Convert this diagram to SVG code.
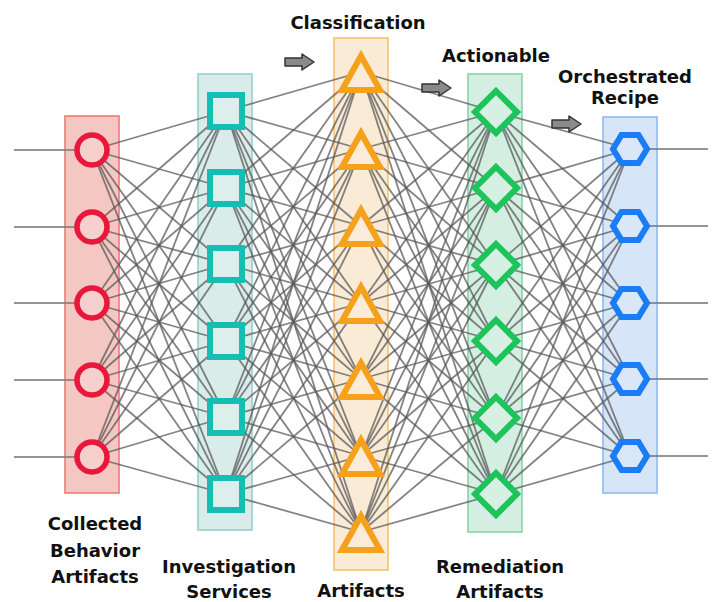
<svg xmlns="http://www.w3.org/2000/svg" width="714" height="602" viewBox="0 0 714 602">
<style>
.bar{stroke-width:1.6}
.b1{fill:#f5c7c3;stroke:#ec7c74}
.b2{fill:#d9ecea;stroke:#93d3cc}
.b3{fill:#faebd7;stroke:#f6c46e}
.b4{fill:#d4efe2;stroke:#86d4a9}
.b5{fill:#d7e5f8;stroke:#90baf2}
.cn line{stroke:#5a5a5a;stroke-width:1.8;stroke-opacity:0.75}
.io line{stroke:#7a7a7a;stroke-width:2;stroke-opacity:0.8}
.c1{fill:#f5d0cd;stroke:#e8173b;stroke-width:5.5}
.c2{fill:#dcefec;stroke:#16bdb3;stroke-width:6}
.c3{fill:#faecd8;stroke:#f5a11b;stroke-width:6;stroke-linejoin:miter}
.c4{fill:#d6f0e3;stroke:#1dc35b;stroke-width:6}
.c5{fill:#dae7f8;stroke:#1b7df5;stroke-width:6}
text{font-family:"DejaVu Sans","Liberation Sans",sans-serif;font-weight:bold;font-size:18px;fill:#111111;text-anchor:middle}
.arr{fill:#8a8a8a;stroke:#333333;stroke-width:1.5;stroke-linejoin:round}
</style>
<defs>
<path id="arrow" d="M0,-4 H17 V-8 L29,0 L17,8 V4 H0 Z"/>
</defs>

<g id="bars">
<rect class="bar b1" x="65" y="116" width="54" height="377"/>
<rect class="bar b2" x="198" y="74" width="54" height="456"/>
<rect class="bar b3" x="334" y="38" width="54" height="532"/>
<rect class="bar b4" x="468" y="74" width="54" height="458"/>
<rect class="bar b5" x="603" y="117" width="54" height="376"/>
</g>

<g id="connectors">
<g class="io">
<line x1="14" y1="150" x2="76" y2="150"/>
<line x1="14" y1="227" x2="76" y2="227"/>
<line x1="14" y1="303" x2="76" y2="303"/>
<line x1="14" y1="380" x2="76" y2="380"/>
<line x1="14" y1="457" x2="76" y2="457"/>
<line x1="648" y1="149" x2="708" y2="149"/>
<line x1="648" y1="226" x2="708" y2="226"/>
<line x1="648" y1="303" x2="708" y2="303"/>
<line x1="648" y1="379" x2="708" y2="379"/>
<line x1="648" y1="456" x2="708" y2="456"/>
</g>
<g class="cn">
<!-- L1 -> L2 -->
<line x1="92" y1="150" x2="226" y2="111"/><line x1="92" y1="150" x2="226" y2="188"/><line x1="92" y1="150" x2="226" y2="264"/><line x1="92" y1="150" x2="226" y2="341"/><line x1="92" y1="150" x2="226" y2="417"/><line x1="92" y1="150" x2="226" y2="494"/>
<line x1="92" y1="227" x2="226" y2="111"/><line x1="92" y1="227" x2="226" y2="188"/><line x1="92" y1="227" x2="226" y2="264"/><line x1="92" y1="227" x2="226" y2="341"/><line x1="92" y1="227" x2="226" y2="417"/><line x1="92" y1="227" x2="226" y2="494"/>
<line x1="92" y1="303" x2="226" y2="111"/><line x1="92" y1="303" x2="226" y2="188"/><line x1="92" y1="303" x2="226" y2="264"/><line x1="92" y1="303" x2="226" y2="341"/><line x1="92" y1="303" x2="226" y2="417"/><line x1="92" y1="303" x2="226" y2="494"/>
<line x1="92" y1="380" x2="226" y2="111"/><line x1="92" y1="380" x2="226" y2="188"/><line x1="92" y1="380" x2="226" y2="264"/><line x1="92" y1="380" x2="226" y2="341"/><line x1="92" y1="380" x2="226" y2="417"/><line x1="92" y1="380" x2="226" y2="494"/>
<line x1="92" y1="457" x2="226" y2="111"/><line x1="92" y1="457" x2="226" y2="188"/><line x1="92" y1="457" x2="226" y2="264"/><line x1="92" y1="457" x2="226" y2="341"/><line x1="92" y1="457" x2="226" y2="417"/><line x1="92" y1="457" x2="226" y2="494"/>
<!-- L2 -> L3 -->
<line x1="226" y1="111" x2="361" y2="72"/><line x1="226" y1="111" x2="361" y2="149"/><line x1="226" y1="111" x2="361" y2="226"/><line x1="226" y1="111" x2="361" y2="303"/><line x1="226" y1="111" x2="361" y2="379"/><line x1="226" y1="111" x2="361" y2="456"/><line x1="226" y1="111" x2="361" y2="532"/>
<line x1="226" y1="188" x2="361" y2="72"/><line x1="226" y1="188" x2="361" y2="149"/><line x1="226" y1="188" x2="361" y2="226"/><line x1="226" y1="188" x2="361" y2="303"/><line x1="226" y1="188" x2="361" y2="379"/><line x1="226" y1="188" x2="361" y2="456"/><line x1="226" y1="188" x2="361" y2="532"/>
<line x1="226" y1="264" x2="361" y2="72"/><line x1="226" y1="264" x2="361" y2="149"/><line x1="226" y1="264" x2="361" y2="226"/><line x1="226" y1="264" x2="361" y2="303"/><line x1="226" y1="264" x2="361" y2="379"/><line x1="226" y1="264" x2="361" y2="456"/><line x1="226" y1="264" x2="361" y2="532"/>
<line x1="226" y1="341" x2="361" y2="72"/><line x1="226" y1="341" x2="361" y2="149"/><line x1="226" y1="341" x2="361" y2="226"/><line x1="226" y1="341" x2="361" y2="303"/><line x1="226" y1="341" x2="361" y2="379"/><line x1="226" y1="341" x2="361" y2="456"/><line x1="226" y1="341" x2="361" y2="532"/>
<line x1="226" y1="417" x2="361" y2="72"/><line x1="226" y1="417" x2="361" y2="149"/><line x1="226" y1="417" x2="361" y2="226"/><line x1="226" y1="417" x2="361" y2="303"/><line x1="226" y1="417" x2="361" y2="379"/><line x1="226" y1="417" x2="361" y2="456"/><line x1="226" y1="417" x2="361" y2="532"/>
<line x1="226" y1="494" x2="361" y2="72"/><line x1="226" y1="494" x2="361" y2="149"/><line x1="226" y1="494" x2="361" y2="226"/><line x1="226" y1="494" x2="361" y2="303"/><line x1="226" y1="494" x2="361" y2="379"/><line x1="226" y1="494" x2="361" y2="456"/><line x1="226" y1="494" x2="361" y2="532"/>
<!-- L3 -> L4 -->
<line x1="361" y1="72" x2="496" y2="112"/><line x1="361" y1="72" x2="496" y2="188"/><line x1="361" y1="72" x2="496" y2="265"/><line x1="361" y1="72" x2="496" y2="341"/><line x1="361" y1="72" x2="496" y2="418"/><line x1="361" y1="72" x2="496" y2="494"/>
<line x1="361" y1="149" x2="496" y2="112"/><line x1="361" y1="149" x2="496" y2="188"/><line x1="361" y1="149" x2="496" y2="265"/><line x1="361" y1="149" x2="496" y2="341"/><line x1="361" y1="149" x2="496" y2="418"/><line x1="361" y1="149" x2="496" y2="494"/>
<line x1="361" y1="226" x2="496" y2="112"/><line x1="361" y1="226" x2="496" y2="188"/><line x1="361" y1="226" x2="496" y2="265"/><line x1="361" y1="226" x2="496" y2="341"/><line x1="361" y1="226" x2="496" y2="418"/><line x1="361" y1="226" x2="496" y2="494"/>
<line x1="361" y1="303" x2="496" y2="112"/><line x1="361" y1="303" x2="496" y2="188"/><line x1="361" y1="303" x2="496" y2="265"/><line x1="361" y1="303" x2="496" y2="341"/><line x1="361" y1="303" x2="496" y2="418"/><line x1="361" y1="303" x2="496" y2="494"/>
<line x1="361" y1="379" x2="496" y2="112"/><line x1="361" y1="379" x2="496" y2="188"/><line x1="361" y1="379" x2="496" y2="265"/><line x1="361" y1="379" x2="496" y2="341"/><line x1="361" y1="379" x2="496" y2="418"/><line x1="361" y1="379" x2="496" y2="494"/>
<line x1="361" y1="456" x2="496" y2="112"/><line x1="361" y1="456" x2="496" y2="188"/><line x1="361" y1="456" x2="496" y2="265"/><line x1="361" y1="456" x2="496" y2="341"/><line x1="361" y1="456" x2="496" y2="418"/><line x1="361" y1="456" x2="496" y2="494"/>
<line x1="361" y1="532" x2="496" y2="112"/><line x1="361" y1="532" x2="496" y2="188"/><line x1="361" y1="532" x2="496" y2="265"/><line x1="361" y1="532" x2="496" y2="341"/><line x1="361" y1="532" x2="496" y2="418"/><line x1="361" y1="532" x2="496" y2="494"/>
<!-- L4 -> L5 -->
<line x1="496" y1="112" x2="630" y2="149"/><line x1="496" y1="112" x2="630" y2="226"/><line x1="496" y1="112" x2="630" y2="303"/><line x1="496" y1="112" x2="630" y2="379"/><line x1="496" y1="112" x2="630" y2="456"/>
<line x1="496" y1="188" x2="630" y2="149"/><line x1="496" y1="188" x2="630" y2="226"/><line x1="496" y1="188" x2="630" y2="303"/><line x1="496" y1="188" x2="630" y2="379"/><line x1="496" y1="188" x2="630" y2="456"/>
<line x1="496" y1="265" x2="630" y2="149"/><line x1="496" y1="265" x2="630" y2="226"/><line x1="496" y1="265" x2="630" y2="303"/><line x1="496" y1="265" x2="630" y2="379"/><line x1="496" y1="265" x2="630" y2="456"/>
<line x1="496" y1="341" x2="630" y2="149"/><line x1="496" y1="341" x2="630" y2="226"/><line x1="496" y1="341" x2="630" y2="303"/><line x1="496" y1="341" x2="630" y2="379"/><line x1="496" y1="341" x2="630" y2="456"/>
<line x1="496" y1="418" x2="630" y2="149"/><line x1="496" y1="418" x2="630" y2="226"/><line x1="496" y1="418" x2="630" y2="303"/><line x1="496" y1="418" x2="630" y2="379"/><line x1="496" y1="418" x2="630" y2="456"/>
<line x1="496" y1="494" x2="630" y2="149"/><line x1="496" y1="494" x2="630" y2="226"/><line x1="496" y1="494" x2="630" y2="303"/><line x1="496" y1="494" x2="630" y2="379"/><line x1="496" y1="494" x2="630" y2="456"/>
</g>
</g>

<g id="layer1">
<g id="n1-1"><circle class="c1" cx="92" cy="150" r="15"/></g>
<g id="n1-2"><circle class="c1" cx="92" cy="227" r="15"/></g>
<g id="n1-3"><circle class="c1" cx="92" cy="303" r="15"/></g>
<g id="n1-4"><circle class="c1" cx="92" cy="380" r="15"/></g>
<g id="n1-5"><circle class="c1" cx="92" cy="457" r="15"/></g>
</g>
<g id="layer2">
<g id="n2-1"><rect class="c2" x="210" y="95" width="32" height="32"/></g>
<g id="n2-2"><rect class="c2" x="210" y="172" width="32" height="32"/></g>
<g id="n2-3"><rect class="c2" x="210" y="248" width="32" height="32"/></g>
<g id="n2-4"><rect class="c2" x="210" y="325" width="32" height="32"/></g>
<g id="n2-5"><rect class="c2" x="210" y="401" width="32" height="32"/></g>
<g id="n2-6"><rect class="c2" x="210" y="478" width="32" height="32"/></g>
</g>
<g id="layer3">
<g id="n3-1"><polygon class="c3" points="361,56 380,90 342,90"/></g>
<g id="n3-2"><polygon class="c3" points="361,133 380,167 342,167"/></g>
<g id="n3-3"><polygon class="c3" points="361,210 380,244 342,244"/></g>
<g id="n3-4"><polygon class="c3" points="361,287 380,321 342,321"/></g>
<g id="n3-5"><polygon class="c3" points="361,363 380,397 342,397"/></g>
<g id="n3-6"><polygon class="c3" points="361,440 380,474 342,474"/></g>
<g id="n3-7"><polygon class="c3" points="361,516 380,550 342,550"/></g>
</g>
<g id="layer4">
<g id="n4-1"><polygon class="c4" points="496,91 517,112 496,133 475,112"/></g>
<g id="n4-2"><polygon class="c4" points="496,167 517,188 496,209 475,188"/></g>
<g id="n4-3"><polygon class="c4" points="496,244 517,265 496,286 475,265"/></g>
<g id="n4-4"><polygon class="c4" points="496,320 517,341 496,362 475,341"/></g>
<g id="n4-5"><polygon class="c4" points="496,397 517,418 496,439 475,418"/></g>
<g id="n4-6"><polygon class="c4" points="496,473 517,494 496,515 475,494"/></g>
</g>
<g id="layer5">
<g id="n5-1"><polygon class="c5" points="613,149 621.5,135 638.5,135 647,149 638.5,163 621.5,163"/></g>
<g id="n5-2"><polygon class="c5" points="613,226 621.5,212 638.5,212 647,226 638.5,240 621.5,240"/></g>
<g id="n5-3"><polygon class="c5" points="613,303 621.5,289 638.5,289 647,303 638.5,317 621.5,317"/></g>
<g id="n5-4"><polygon class="c5" points="613,379 621.5,365 638.5,365 647,379 638.5,393 621.5,393"/></g>
<g id="n5-5"><polygon class="c5" points="613,456 621.5,442 638.5,442 647,456 638.5,470 621.5,470"/></g>
</g>

<g id="arrows">
<use href="#arrow" class="arr" x="285" y="62"/>
<use href="#arrow" class="arr" x="422" y="88"/>
<use href="#arrow" class="arr" x="552" y="124"/>
</g>

<g id="labels">
<text x="358" y="29">Classification</text>
<text x="496" y="62">Actionable</text>
<text x="625" y="83">Orchestrated</text>
<text x="625" y="104">Recipe</text>
<text x="95" y="530">Collected</text>
<text x="95" y="557">Behavior</text>
<text x="95" y="583">Artifacts</text>
<text x="229" y="573">Investigation</text>
<text x="229" y="598">Services</text>
<text x="361" y="597">Artifacts</text>
<text x="500" y="573">Remediation</text>
<text x="500" y="598">Artifacts</text>
</g>
</svg>
